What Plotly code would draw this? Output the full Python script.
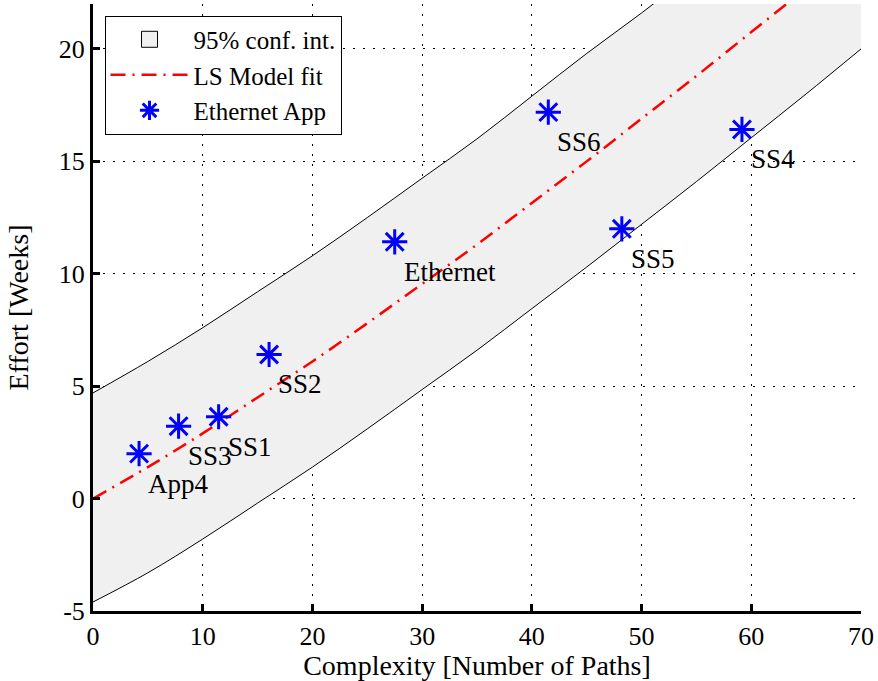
import plotly.graph_objects as go

# ---- data ----
curve_x = [0, 5, 10, 15, 20, 25, 30, 35, 40, 45, 50, 55, 60, 65, 70]
fit_y = [0.0, 1.4, 2.9, 4.5, 6.1, 7.8, 9.55, 11.3, 13.15, 15.0, 16.9, 18.8, 20.75, 22.7, 24.7]
upper_y = [4.7, 6.1, 7.6, 9.2, 10.8, 12.5, 14.25, 16.0, 17.9, 19.8, 21.6, 23.5, 25.45, 27.4, 29.4]
lower_y = [-4.6, -3.3, -1.8, -0.2, 1.4, 3.1, 4.85, 6.6, 8.45, 10.3, 12.2, 14.1, 16.05, 18.0, 20.0]

app_names = ["App4", "SS3", "SS1", "SS2", "Ethernet", "SS6", "SS5", "SS4"]
app_x = [4.2, 7.8, 11.45, 16.05, 27.5, 41.5, 48.2, 59.15]
app_y = [2.0, 3.22, 3.64, 6.41, 11.42, 17.19, 12.0, 16.42]

x_ticks = [0, 10, 20, 30, 40, 50, 60, 70]
y_ticks = [-5, 0, 5, 10, 15, 20]

FONT = "Liberation Serif, DejaVu Serif, serif"

fig = go.Figure()
fig.add_trace(go.Scatter(x=curve_x, y=lower_y, mode="lines", line=dict(color="black", width=1, shape="spline"),
                         showlegend=False, hoverinfo="skip"))
fig.add_trace(go.Scatter(x=curve_x, y=upper_y, mode="lines", line=dict(color="black", width=1, shape="spline"),
                         fill="tonexty", fillcolor="#f0f0f0", showlegend=False))
# legend entry for the confidence band
fig.add_trace(go.Scatter(x=[None], y=[None], mode="markers", name="95% conf. int.",
                         marker=dict(symbol="square", size=20, color="#f0f0f0",
                                     line=dict(color="black", width=1))))
fig.add_trace(go.Scatter(x=curve_x, y=fit_y, mode="lines",
                         line=dict(color="red", width=2.5, dash="15px,7px,2px,7px", shape="spline"),
                         name="LS Model fit"))
fig.add_trace(go.Scatter(x=app_x, y=app_y, mode="markers",
                         marker=dict(symbol="asterisk-open", size=21, color="blue",
                                     line=dict(color="blue", width=3)),
                         name="Ethernet App"))

for n, x, y in zip(app_names, app_x, app_y):
    fig.add_annotation(x=x, y=y, text=n, showarrow=False, xanchor="left", yanchor="middle",
                       xshift=7, yshift=-30, font=dict(family=FONT, size=27, color="black"))

axis_common = dict(showline=True, linecolor="black", linewidth=3, ticks="inside", ticklen=7,
                   tickwidth=3, tickcolor="black", showgrid=True, gridcolor="black", gridwidth=1,
                   griddash="2px,8px", zeroline=False, mirror=False,
                   tickfont=dict(family=FONT, size=26, color="black"))

fig.update_xaxes(range=[0, 70], tickvals=x_ticks, ticktext=[str(v) for v in x_ticks],
                 title=dict(text="Complexity [Number of Paths]", font=dict(family=FONT, size=28, color="black"),
                            standoff=4), **axis_common)
fig.update_yaxes(range=[-5, 22], tickvals=y_ticks, ticktext=[str(v) for v in y_ticks],
                 title=dict(text="Effort [Weeks]", font=dict(family=FONT, size=28, color="black"),
                            standoff=22), **axis_common)

fig.update_layout(
    width=878, height=681,
    margin=dict(l=93, r=15, t=4, b=70),
    plot_bgcolor="white", paper_bgcolor="white",
    font=dict(family=FONT, size=26, color="black"),
    legend=dict(x=0.015, y=0.981, xanchor="left", yanchor="top", bgcolor="white",
                bordercolor="black", borderwidth=1, font=dict(family=FONT, size=25, color="black"),
                traceorder="normal", tracegroupgap=0, itemwidth=78),
)

fig.write_html("out.html", config={"displayModeBar": False},
               post_script="document.body.style.margin='0px';")
